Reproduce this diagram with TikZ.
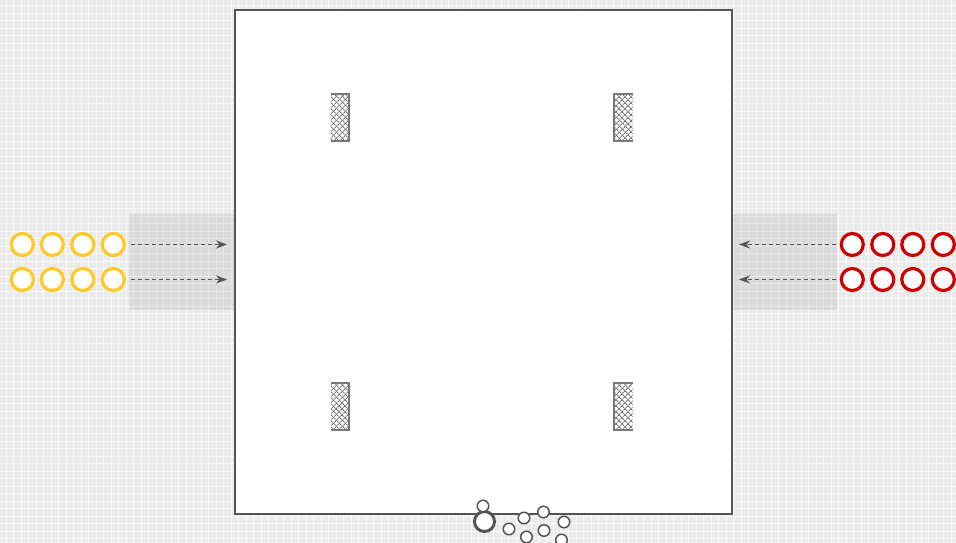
\documentclass[tikz,border=0pt]{standalone}
\usetikzlibrary{arrows.meta,patterns.meta}
\definecolor{pitchgrey}{RGB}{85,85,85}
\definecolor{netgrey}{RGB}{120,120,120}
\definecolor{teamgold}{RGB}{255,201,38}
\definecolor{teamred}{RGB}{204,0,0}
\definecolor{turf}{RGB}{235,235,235}
\definecolor{turfline}{RGB}{248,248,248}

\begin{document}
\begin{tikzpicture}[
    x=1pt,y=-1pt,
    player/.style={circle,line width=3.2pt,fill=white,minimum size=22pt,inner sep=0pt},
    gold/.style={player,draw=teamgold},
    crimson/.style={player,draw=teamred},
    ball/.style={circle,draw=pitchgrey,line width=1.5pt,fill=white,
                 minimum size=11.5pt,inner sep=0pt},
    bag/.style={circle,draw=pitchgrey,line width=3pt,fill=white,
                minimum size=20pt,inner sep=0pt},
    net/.style={rectangle,minimum width=18pt,minimum height=47pt,inner sep=0pt,
                pattern={Lines[angle=45,distance=4pt,line width=0.9pt]},
                pattern color=netgrey},
    post/.style={draw=netgrey,line width=2pt},
    zone/.style={fill=black,fill opacity=0.07},
    ar/.style={-{Stealth[length=11pt,width=8pt,inset=3.5pt]},pitchgrey,
               line width=1.2pt,dash pattern=on 4pt off 3pt}
  ]
  \useasboundingbox (0,0) rectangle (956,543);

  % turf grid
  \fill[turf] (0,0) rectangle (956,543);
  \foreach \gx in {0,...,127}
    \draw[turfline,line width=1pt] (\gx*7.5+6,0) -- (\gx*7.5+6,543);
  \foreach \gy in {0,...,72}
    \draw[turfline,line width=1pt] (0,\gy*7.5+6) -- (956,\gy*7.5+6);

  % entry zones
  \fill[zone] (129,214) rectangle (235,310);
  \fill[zone] (732,214) rectangle (837,310);

  % pitch
  \draw[pitchgrey,line width=1.2pt,fill=white] (235,10) rectangle (732,514);

  % goals
  \node[net] (gtl) at (340,117.5) {};
  \node[net] (gtr) at (623.5,117.5) {};
  \node[net] (gbl) at (340,406.5) {};
  \node[net] (gbr) at (623.5,406.5) {};
  \foreach \g in {gtl,gtr,gbl,gbr}
    \fill[pattern={Lines[angle=-45,distance=4pt,line width=0.9pt]},pattern color=netgrey]
      (\g.north west) rectangle (\g.south east);
  \draw[post] (gtl.north west) -- (gtl.north east) -- (gtl.south east) -- (gtl.south west);
  \draw[post] (gbl.north west) -- (gbl.north east) -- (gbl.south east) -- (gbl.south west);
  \draw[post] (gtr.north east) -- (gtr.north west) -- (gtr.south west) -- (gtr.south east);
  \draw[post] (gbr.north east) -- (gbr.north west) -- (gbr.south west) -- (gbr.south east);

  % yellow team
  \foreach \i/\px in {1/22.3,2/52.3,3/82.8,4/113.3} {
    \node[gold] (ya\i) at (\px,244.5) {};
    \node[gold] (yb\i) at (\px,279.5) {};
  }
  % red team
  \foreach \i/\px in {1/852.3,2/882.8,3/912.8,4/943.3} {
    \node[crimson] (ra\i) at (\px,244.5) {};
    \node[crimson] (rb\i) at (\px,279.5) {};
  }

  % runs onto the pitch
  \coordinate (inya) at (227,244.5);
  \coordinate (inyb) at (227,279.5);
  \coordinate (inra) at (739,244.5);
  \coordinate (inrb) at (739,279.5);
  \draw[ar,shorten <=5pt] (ya4) -- (inya);
  \draw[ar,shorten <=5pt] (yb4) -- (inyb);
  \draw[ar,shorten <=4pt] (ra1) -- (inra);
  \draw[ar,shorten <=4pt] (rb1) -- (inrb);

  % ball bag
  \node[bag] (bag) at (484.5,521.5) {};
  \node[ball] (b0) at (483,506) {};
  \foreach \i/\bx/\by in {1/509/529,2/524/518,3/543.5/512,4/526.5/537,
                          5/544/530.5,6/564/522,7/561.5/540}
    \node[ball] (b\i) at (\bx,\by) {};
\end{tikzpicture}
\end{document}
